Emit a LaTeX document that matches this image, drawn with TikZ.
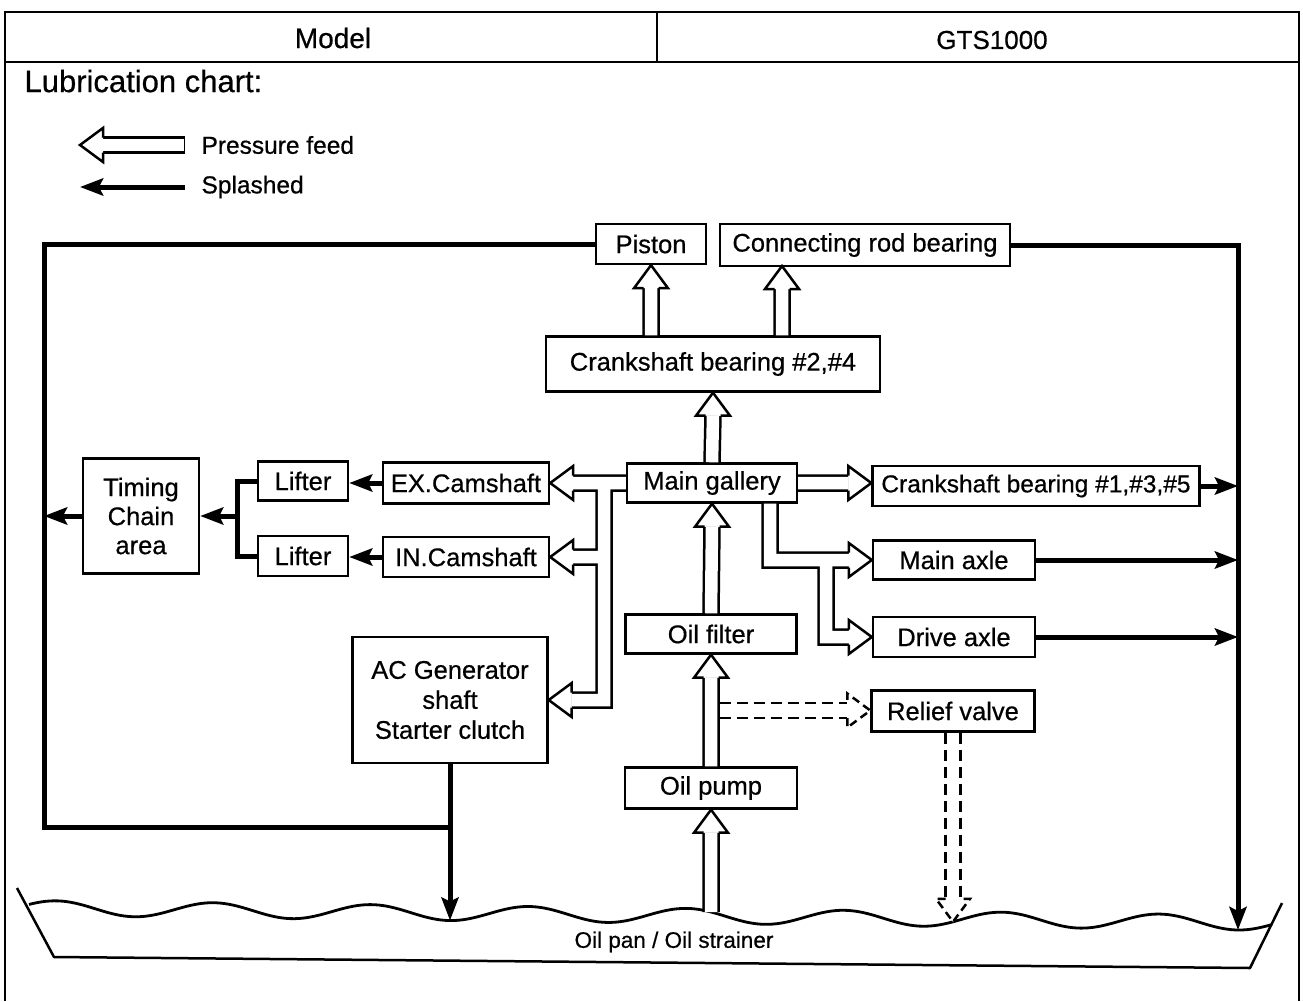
\documentclass[tikz,border=0pt]{standalone}
\usepackage{fontspec}
\setmainfont{Liberation Sans}[FakeBold=0.6]
\usetikzlibrary{arrows.meta,calc}

\tikzset{
  % hollow head of a pressure-feed arrow, tip at the origin, pointing along +x
  hhead/.pic={
    \fill[white] (-23,17) -- (0,0) -- (-23,-17) -- cycle;
    \draw[line width=2.5pt, line join=miter] (-23,7.5) -- (-23,17) -- (0,0) -- (-23,-17) -- (-23,-7.5);
  },
  hheadd/.pic={
    \fill[white] (-23,17) -- (0,0) -- (-23,-17) -- cycle;
    \draw[line width=2.5pt, line join=miter, dash pattern=on 8pt off 5pt] (-23,7.5) -- (-23,17) -- (0,0) -- (-23,-17) -- (-23,-7.5);
  },
  % oil surface in the pan
  declare function={oilwave(\x)=908 + 0.012*(\x-29) + 7.5*cos(2.284*(\x-450));},
}

\begin{document}
\begin{tikzpicture}[x=1pt,y=-1pt,
  box/.style={draw, line width=2.4pt, inner sep=0pt, align=center,
              font=\fontsize{25.5}{29}\selectfont},
  splash/.style={line width=5pt, line join=miter},
  splasharrow/.style={splash, -{Stealth[length=23pt,width=17pt,inset=4pt]}},
  pipeO/.style={line width=17.5pt, draw=black, line join=miter},
  pipeI/.style={line width=12.5pt, draw=white, line join=miter},
  dashO/.style={pipeO, dash pattern=on 11pt off 6pt},
  frame/.style={line width=2.8pt},
]
\useasboundingbox (0,0) rectangle (1303,1001);

% ---- title block ----
\draw[frame] (5,1001) -- (5,12) -- (1299,12) -- (1299,1001);
\draw[frame] (5,62) -- (1299,62);
\draw[frame] (657,12) -- (657,62);
\node[font=\fontsize{28}{32}\selectfont] (model) at (333,38) {Model};
\node[font=\fontsize{26}{30}\selectfont] (gts) at (992,40) {GTS1000};
\node[anchor=west, font=\fontsize{31}{34}\selectfont] (title) at (21,81) {Lubrication chart:};

% ---- legend ----
\node[anchor=west, font=\fontsize{24.5}{29}\selectfont] (legP) at (198,145) {Pressure feed};
\node[anchor=west, font=\fontsize{24.5}{29}\selectfont] (legS) at (198,187) {Splashed};
\coordinate (lpA) at (185,145);
\coordinate (lpB) at (80,145);
\coordinate (lsA) at (185,187);
\coordinate (lsB) at (80,187);
\draw[pipeO] (lpA) -- ($(lpB)+(23,0)$);
\draw[pipeI] ($(lpA)+(-1.25,0)$) -- ($(lpB)+(23,0)$);
\pic[rotate=180] at (lpB) {hhead};
\draw[splasharrow] (lsA) -- (lsB);

% ---- components ----
\node[box, minimum width=110pt, minimum height=40pt] (piston) at (651,244) {Piston};
\node[box, minimum width=290pt, minimum height=42pt] (conrod) at (865,245) {Connecting rod bearing};
\node[box, minimum width=334pt, minimum height=55pt] (cb24) at (713,364) {Crankshaft bearing \#2,\#4};
\node[box, minimum width=170pt, minimum height=39pt] (gallery) at (712,483) {Main gallery};
\node[box, minimum width=327pt, minimum height=40pt, font=\fontsize{24.5}{29}\selectfont] (cb135) at (1036,486) {Crankshaft bearing \#1,\#3,\#5};
\node[box, minimum width=162pt, minimum height=39pt] (mainaxle) at (954,560) {Main axle};
\node[box, minimum width=162pt, minimum height=40pt] (driveaxle) at (954,637) {Drive axle};
\node[box, minimum width=163pt, minimum height=41pt] (relief) at (953,711) {Relief valve};
\node[box, minimum width=171pt, minimum height=39pt] (filter) at (711,634) {Oil filter};
\node[box, minimum width=172pt, minimum height=41pt] (pump) at (711,788) {Oil pump};
\node[box, minimum width=166pt, minimum height=41pt] (excam) at (466,483) {EX.Camshaft};
\node[box, minimum width=166pt, minimum height=40pt] (incam) at (466,557) {IN.Camshaft};
\node[box, minimum width=90pt, minimum height=39pt] (lifterA) at (303,481) {Lifter};
\node[box, minimum width=90pt, minimum height=40pt] (lifterB) at (303,556) {Lifter};
\node[box, minimum width=116pt, minimum height=115pt] (timing) at (141,516) {Timing\\Chain\\area};
\node[box, minimum width=195pt, minimum height=126pt, font=\fontsize{25.5}{30}\selectfont] (acgen) at (450,700) {AC Generator\\shaft\\Starter clutch};

% ---- oil pan ----
\draw[line width=2.5pt, line join=round] (17,888) -- (54,957) -- (1250,968) -- (1282,903);
\draw[line width=2.8pt] plot[domain=29:1272, samples=300, smooth] (\x, {oilwave(\x)});
\node[font=\fontsize{22.5}{26}\selectfont] (pan) at (674,942) {Oil pan / Oil strainer};

% ---- junction points ----
\coordinate (panpump) at (711,{oilwave(711)});
\coordinate (panac) at (450,{oilwave(450)});
\coordinate (panrv) at (953,{oilwave(953)});
\coordinate (panR) at (1238,{oilwave(1238)});
\coordinate (Lcorner) at (44,827);
\coordinate (Ljoin) at (450,827);
\coordinate (lj) at (237,516);
\coordinate (conpipe) at (782,266);
\coordinate (lt1) at (604,483);
\coordinate (lt2) at (604,700);
\coordinate (rt1) at (770,560);
\coordinate (rt2) at (826,560);
\coordinate (rvsrc) at ($(pump.north)!0.5!(filter.south)+(8.75,0)$);

% ---- splashed oil ----
\draw[splash] (piston.west) -| (Lcorner) -- (Ljoin);
\draw[splasharrow] (acgen.south) -- (panac);
\draw[splasharrow] (timing.west) -- (timing.west -| Lcorner);
\draw[splasharrow] (conrod.east) -| (panR);
\draw[splasharrow] (cb135.east) -- (cb135.east -| panR);
\draw[splasharrow] (mainaxle.east) -- (mainaxle.east -| panR);
\draw[splasharrow] (driveaxle.east) -- (driveaxle.east -| panR);
\draw[splash] (lifterA.west) -| (lj) |- (lifterB.west);
\draw[splasharrow] (lj) -- (timing.east);
\draw[splasharrow] (excam.west) -- (excam.west -| lifterA.east);
\draw[splasharrow] (incam.west) -- (incam.west -| lifterB.east);

% ---- pressure feed: outer strokes first, cores after ----
\newcommand\feedpipes[1]{%
  \draw[#1] (panpump) -- ($(pump.south)+(0,23)$)
    (pump.north) -- ($(filter.south)+(0,23)$)
    (filter.north) -- ($(gallery.south)+(0,23)$)
    (gallery.north) -- ($(cb24.south)+(0,23)$)
    (cb24.north -| piston.south) -- ($(piston.south)+(0,23)$)
    (cb24.north -| conpipe) -- ($(conpipe)+(0,23)$)
    (gallery.east) -- ($(gallery.east -| cb135.west)+(-23,0)$)
    (gallery.west) -- (lt1) -- (lt2) -- ($(acgen.east |- lt2)+(23,0)$)
    (lt1) -- ($(excam.east)+(23,0)$)
    (lt1 |- incam.east) -- ($(incam.east)+(23,0)$)
    (gallery.south -| rt1) -- (rt1) -- ($(mainaxle.west)+(-23,0)$)
    (rt2) -- (rt2 |- driveaxle.west) -- ($(driveaxle.west)+(-23,0)$);
}
\feedpipes{pipeO}
\feedpipes{pipeI}
\pic[rotate=90] at (pump.south) {hhead};
\pic[rotate=90] at (filter.south) {hhead};
\pic[rotate=90] at (gallery.south) {hhead};
\pic[rotate=90] at (cb24.south) {hhead};
\pic[rotate=90] at (piston.south) {hhead};
\pic[rotate=90] at (conpipe) {hhead};
\pic at (gallery.east -| cb135.west) {hhead};
\pic[rotate=180] at (excam.east) {hhead};
\pic[rotate=180] at (incam.east) {hhead};
\pic[rotate=180] at (acgen.east |- lt2) {hhead};
\pic at (mainaxle.west) {hhead};
\pic at (driveaxle.west) {hhead};

% ---- relief valve bypass (dashed) ----
\draw[dashO] (rvsrc) -- ($(relief.west |- rvsrc)+(-23,0)$)
  (relief.south) -- ($(panrv)+(0,-23)$);
\draw[pipeI] (rvsrc) -- ($(relief.west |- rvsrc)+(-23,0)$)
  (relief.south) -- ($(panrv)+(0,-23)$);
\pic at (relief.west |- rvsrc) {hheadd};
\pic[rotate=-90] at (panrv) {hheadd};
\end{tikzpicture}
\end{document}
